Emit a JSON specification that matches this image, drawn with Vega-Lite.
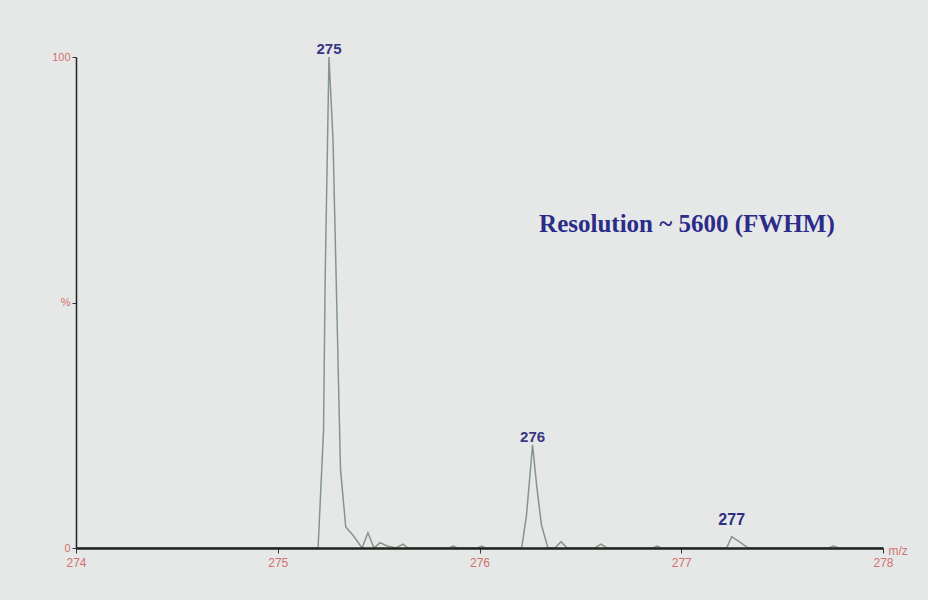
{
  "$schema": "https://vega.github.io/schema/vega-lite/v6.json",
  "width": 807,
  "height": 491,
  "autosize": {"type": "none"},
  "padding": {"left": 76, "top": 57, "right": 45, "bottom": 52},
  "background": "#e6e8e8",
  "config": {"view": {"stroke": null}, "font": "Liberation Sans"},
  "datasets": {
    "spectrum": [
      {"mz": 274.0, "intensity": 0},
      {"mz": 275.2, "intensity": 0},
      {"mz": 275.227, "intensity": 24},
      {"mz": 275.235, "intensity": 55},
      {"mz": 275.254, "intensity": 100},
      {"mz": 275.274, "intensity": 83},
      {"mz": 275.311, "intensity": 16},
      {"mz": 275.337, "intensity": 4.3},
      {"mz": 275.373, "intensity": 2.6},
      {"mz": 275.418, "intensity": 0},
      {"mz": 275.447, "intensity": 3.1},
      {"mz": 275.477, "intensity": 0},
      {"mz": 275.507, "intensity": 1.1},
      {"mz": 275.542, "intensity": 0.4},
      {"mz": 275.586, "intensity": 0},
      {"mz": 275.621, "intensity": 0.8},
      {"mz": 275.646, "intensity": 0},
      {"mz": 275.85, "intensity": 0},
      {"mz": 275.869, "intensity": 0.4},
      {"mz": 275.89, "intensity": 0},
      {"mz": 275.99, "intensity": 0},
      {"mz": 276.011, "intensity": 0.4},
      {"mz": 276.03, "intensity": 0},
      {"mz": 276.209, "intensity": 0},
      {"mz": 276.233, "intensity": 6.7},
      {"mz": 276.263, "intensity": 21},
      {"mz": 276.283, "intensity": 12.8},
      {"mz": 276.307, "intensity": 4.7},
      {"mz": 276.339, "intensity": 0},
      {"mz": 276.374, "intensity": 0},
      {"mz": 276.404, "intensity": 1.3},
      {"mz": 276.434, "intensity": 0},
      {"mz": 276.572, "intensity": 0},
      {"mz": 276.602, "intensity": 0.8},
      {"mz": 276.632, "intensity": 0},
      {"mz": 276.86, "intensity": 0},
      {"mz": 276.881, "intensity": 0.4},
      {"mz": 276.9, "intensity": 0},
      {"mz": 277.225, "intensity": 0},
      {"mz": 277.25, "intensity": 2.3},
      {"mz": 277.291, "intensity": 1.2},
      {"mz": 277.332, "intensity": 0},
      {"mz": 277.73, "intensity": 0},
      {"mz": 277.754, "intensity": 0.4},
      {"mz": 277.78, "intensity": 0},
      {"mz": 278.0, "intensity": 0}
    ],
    "labels": [
      {"mz": 275.254, "intensity": 100, "label": "275"},
      {"mz": 276.263, "intensity": 21, "label": "276"},
      {"mz": 277.25, "intensity": 4.1, "label": "277"}
    ],
    "note": [
      {"mz": 277.028, "intensity": 66, "text": "Resolution ~ 5600 (FWHM)"}
    ]
  },
  "layer": [
    {
      "data": {"name": "spectrum"},
      "mark": {"type": "line", "color": "#84968b", "strokeWidth": 1.5, "clip": true},
      "encoding": {
        "x": {
          "field": "mz",
          "type": "quantitative",
          "scale": {"domain": [274, 278], "nice": false, "zero": false},
          "axis": {
            "values": [274, 275, 276, 277, 278],
            "format": "d",
            "grid": false,
            "labelColor": "#d2706c",
            "labelFontSize": 12,
            "labelPadding": 4,
            "labelFlush": false,
            "tickColor": "#333333",
            "tickSize": 5,
            "domainColor": "#1e241e",
            "domainWidth": 2.5,
            "zindex": 1,
            "title": "m/z",
            "titleX": 812,
            "titleY": 2,
            "titleAlign": "left",
            "titleBaseline": "middle",
            "titleAnchor": null,
            "titleFontWeight": "normal",
            "titleFontSize": 12,
            "titleColor": "#d2706c"
          }
        },
        "y": {
          "field": "intensity",
          "type": "quantitative",
          "scale": {"domain": [0, 100], "nice": false},
          "axis": {
            "values": [0, 50, 100],
            "labelExpr": "datum.value == 50 ? '%' : datum.label",
            "grid": false,
            "labelColor": "#d2706c",
            "labelFontSize": 11,
            "labelPadding": 2,
            "labelFlush": false,
            "tickColor": "#333333",
            "tickSize": 4,
            "domainColor": "#222222",
            "domainWidth": 1.5,
            "zindex": 1,
            "title": null
          }
        }
      }
    },
    {
      "data": {"name": "labels"},
      "transform": [{"filter": "datum.label != '277'"}],
      "mark": {"type": "text", "color": "#363684", "fontSize": 15, "fontWeight": "bold", "align": "center", "baseline": "alphabetic", "dy": -3},
      "encoding": {
        "x": {"field": "mz", "type": "quantitative"},
        "y": {"field": "intensity", "type": "quantitative"},
        "text": {"field": "label"}
      }
    },
    {
      "data": {"name": "labels"},
      "transform": [{"filter": "datum.label == '277'"}],
      "mark": {"type": "text", "color": "#2e2e84", "fontSize": 16, "fontWeight": "bold", "align": "center", "baseline": "alphabetic", "dy": -3},
      "encoding": {
        "x": {"field": "mz", "type": "quantitative"},
        "y": {"field": "intensity", "type": "quantitative"},
        "text": {"field": "label"}
      }
    },
    {
      "data": {"name": "note"},
      "mark": {"type": "text", "color": "#2b2b8a", "font": "Liberation Serif", "fontSize": 25, "fontWeight": "bold", "align": "center", "baseline": "middle"},
      "encoding": {
        "x": {"field": "mz", "type": "quantitative"},
        "y": {"field": "intensity", "type": "quantitative"},
        "text": {"field": "text"}
      }
    }
  ]
}
